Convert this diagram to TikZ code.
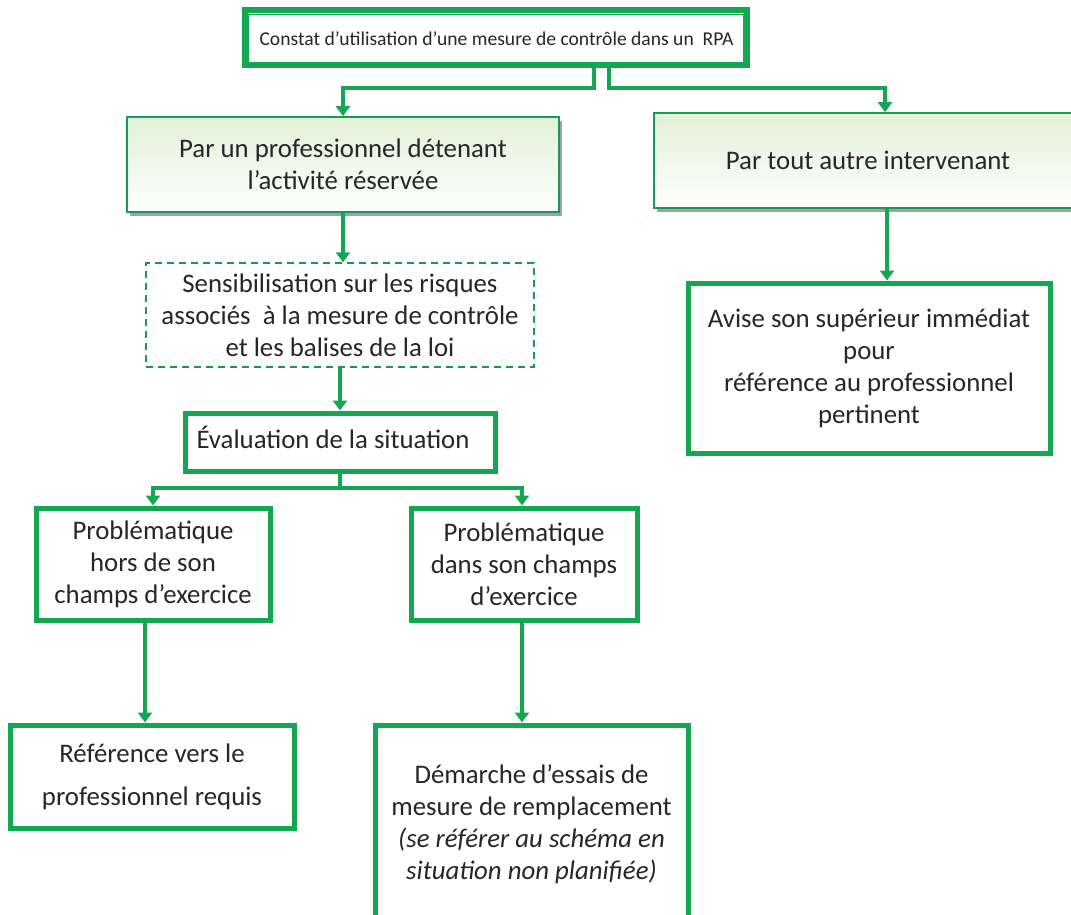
\documentclass[tikz,border=0pt]{standalone}
\usepackage{fontspec}
\setmainfont{Carlito}
\usetikzlibrary{arrows.meta,shadows}
\definecolor{vert}{RGB}{20,166,80}
\definecolor{vertfonce}{RGB}{30,150,85}
\definecolor{vertpale}{RGB}{226,241,215}
\begin{document}
\begin{tikzpicture}[x=1pt,y=-1pt,
  every node/.style={font=\fontsize{26.8}{32}\selectfont, text=black!85},
  box/.style={draw=vert, line width=5pt, fill=white, align=center, inner sep=0pt},
  softbox/.style={draw=vertfonce, line width=1.6pt, top color=vertpale, bottom color=white!96!vertpale,
    align=center, inner sep=0pt,
    drop shadow={shadow xshift=3pt, shadow yshift=-4pt, fill=black!45, opacity=0.8}},
  dashbox/.style={draw=vertfonce, line width=1.4pt, dash pattern=on 7pt off 5pt, align=center, inner sep=0pt},
  link/.style={draw=vert, line width=3.8pt},
  arrow/.style={link, -{Triangle[length=10pt,width=14pt]}}]
\useasboundingbox (0,0) rectangle (1071,915);

% top box with double frame
\node[box, line width=6pt, minimum width=502pt, minimum height=55pt] (constat) at (496,38) {};
\draw[vert, line width=1.2pt] ([shift={(6,7)}]constat.north west) rectangle ([shift={(-6,-6)}]constat.south east);
\node[anchor=west, font=\fontsize{19.6}{24}\selectfont] (constattxt) at (256,39) {Constat d’utilisation d’une mesure de contrôle dans un \ RPA};

% second level
\node[softbox, minimum width=432pt, minimum height=95pt] (pro) at (343,164.5)
  {Par un professionnel détenant\\l’activité réservée};
\node[softbox, minimum width=428pt, minimum height=95pt] (autre) at (868,160.5)
  {Par tout autre intervenant};

% left branch
\node[dashbox, minimum width=388pt, minimum height=104pt] (sensib) at (340,315)
  {Sensibilisation sur les risques\\associés\ \ à la mesure de contrôle\\et les balises de la loi};
\node[box, minimum width=310pt, minimum height=58pt] (eval) at (340,442) {};
\node[anchor=west] (evaltxt) at (193,437) {Évaluation de la situation};

\node[box, minimum width=234pt, minimum height=112pt] (hors) at (153,564)
  {Problématique\\hors de son\\champs d’exercice};
\node[box, minimum width=226pt, minimum height=112pt] (dans) at (524,564)
  {Problématique\\dans son champs\\d’exercice};

\node[box, minimum width=284pt, minimum height=103pt, font=\fontsize{26.8}{43}\selectfont] (ref) at (152,776.5)
  {Référence vers le\\professionnel requis};
\node[box, minimum width=313pt, minimum height=198pt] (dem) at (531.5,824)
  {Démarche d’essais de\\mesure de remplacement\\\textit{(se référer au schéma en}\\\textit{situation non planifiée)}};

% right branch
\node[box, minimum width=362pt, minimum height=170pt] (avise) at (869,368)
  {Avise son supérieur immédiat\\pour\\référence au professionnel\\pertinent};

% connectors
\coordinate (cl) at (594,88);
\coordinate (cr) at (609,88);
\draw[arrow] (cl |- constat.south) -- (cl) -| (pro.north);
\draw[arrow] (cr |- constat.south) -- (cr) -| ([xshift=17pt]autre.north);

\draw[arrow] (pro.south) -- (pro.south |- sensib.north);
\draw[arrow] (sensib.south) -- (eval.north);

\coordinate (es) at (340,488);
\draw[link] (eval.south) -- (es);
\draw[arrow] (es) -| (hors.north);
\draw[arrow] (es) -| ([xshift=-2pt]dans.north);

\draw[arrow] ([xshift=-8pt]hors.south) -- ([xshift=-8pt]hors.south |- ref.north);
\draw[arrow] ([xshift=-2pt]dans.south) -- ([xshift=-2pt]dans.south |- dem.north);
\draw[arrow] ([xshift=19pt]autre.south) -- ([xshift=19pt]autre.south |- avise.north);
\end{tikzpicture}
\end{document}
